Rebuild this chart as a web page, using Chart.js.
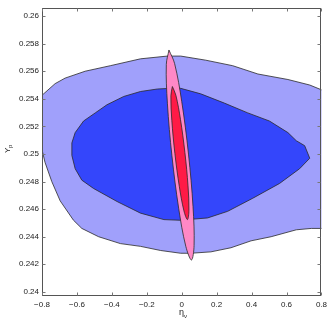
<!DOCTYPE html>
<html>
<head>
<meta charset="utf-8">
<script src="https://cdn.jsdelivr.net/npm/chart.js@4/dist/chart.umd.min.js"></script>
<style>
html,body{margin:0;padding:0;background:#fff;}
#wrap{width:331px;height:323px;}
</style>
</head>
<body>
<div id="wrap"><canvas id="c" width="331" height="323"></canvas></div>
<script>
// ---- data ----
const X_TICKS = [-0.8, -0.6, -0.4, -0.2, 0, 0.2, 0.4, 0.6, 0.8];
const X_LABELS = ['\u22120.8', '\u22120.6', '\u22120.4', '\u22120.2', '0', '0.2', '0.4', '0.6', '0.8'];
const Y_TICKS = [0.24, 0.242, 0.244, 0.246, 0.248, 0.25, 0.252, 0.254, 0.256, 0.258, 0.26];
const Y_LABELS = ['0.24', '0.242', '0.244', '0.246', '0.248', '0.25', '0.252', '0.254', '0.256', '0.258', '0.26'];

// outer (light blue) contour
const outerEta = [-0.823, -0.796, -0.725, -0.668, -0.553, -0.409, -0.236, -0.082, -0.006, 0.138, 0.292, 0.436, 0.608, 0.733, 0.810, 0.835, 0.835, 0.810, 0.742, 0.656, 0.512, 0.397, 0.282, 0.167, 0.052, -0.006, -0.121, -0.236, -0.351, -0.476, -0.572, -0.620, -0.696, -0.744, -0.783, -0.796, -0.823];
const outerYp  = [0.2540, 0.2543, 0.2551, 0.2555, 0.2560, 0.2564, 0.2569, 0.2571, 0.2571, 0.2568, 0.2564, 0.2558, 0.2554, 0.2550, 0.2546, 0.2546, 0.2447, 0.2446, 0.2446, 0.2445, 0.2440, 0.2437, 0.2432, 0.2429, 0.2428, 0.2428, 0.2430, 0.2433, 0.2435, 0.2440, 0.2446, 0.2452, 0.2466, 0.2480, 0.2494, 0.2501, 0.2507];

// inner (dark blue) contour
const innerEta = [-0.629, -0.610, -0.562, -0.495, -0.428, -0.332, -0.236, -0.140, -0.063, -0.006, 0.109, 0.244, 0.378, 0.502, 0.608, 0.656, 0.704, 0.733, 0.675, 0.560, 0.407, 0.263, 0.148, 0.033, -0.006, -0.102, -0.236, -0.370, -0.505, -0.572, -0.610, -0.629];
const innerYp  = [0.2508, 0.25155, 0.25239, 0.25298, 0.25357, 0.25417, 0.25453, 0.25471, 0.25476, 0.25476, 0.25436, 0.25369, 0.25298, 0.25239, 0.25155, 0.25096, 0.2506, 0.24969, 0.24893, 0.24786, 0.24679, 0.24584, 0.24536, 0.24524, 0.24519, 0.24524, 0.24571, 0.24655, 0.2475, 0.2481, 0.24893, 0.24989];

// pink (outer) ellipse
const pinkEta = [-0.0731, -0.0406, 0.0003, 0.0388, 0.0647, 0.0708, 0.0558, 0.0234, -0.0176, -0.0561, -0.0820, -0.0882];
const pinkYp  = [0.25754, 0.25655, 0.25379, 0.24999, 0.24618, 0.24336, 0.24231, 0.2433, 0.24607, 0.24987, 0.25368, 0.25649];

// red (inner) ellipse
const redEta = [-0.0535, -0.0335, -0.0072, 0.0182, 0.0360, 0.0413, 0.0328, 0.0128, -0.0135, -0.0390, -0.0567, -0.0620];
const redYp  = [0.25489, 0.25426, 0.25251, 0.2501, 0.24769, 0.24591, 0.24524, 0.24587, 0.24762, 0.25003, 0.25244, 0.25422];

// ---- build closed point lists ----
function closed(xs, ys) {
  const pts = xs.map((v, i) => ({x: v, y: ys[i]}));
  pts.push({x: xs[0], y: ys[0]});
  return pts;
}

const FONT = 'Liberation Sans, Arial, Helvetica, sans-serif';

const framePlugin = {
  id: 'frame',
  afterDatasetsDraw(chart) {
    const {ctx, chartArea: a, scales: {x, y}} = chart;
    ctx.save();
    ctx.strokeStyle = '#555';
    ctx.lineWidth = 1;
    const L = Math.round(a.left) + 0.5, R = Math.round(a.right) - 0.5;
    const T = Math.round(a.top) + 0.5, B = Math.round(a.bottom) - 0.5;
    ctx.strokeRect(L, T, R - L, B - T);
    ctx.strokeStyle = '#777';
    ctx.beginPath();
    X_TICKS.forEach(v => {
      const p = Math.round(x.getPixelForValue(v)) + 0.5;
      ctx.moveTo(p, B); ctx.lineTo(p, B - 3);
      ctx.moveTo(p, T); ctx.lineTo(p, T + 3);
    });
    Y_TICKS.forEach(v => {
      const p = Math.round(y.getPixelForValue(v)) + 0.5;
      ctx.moveTo(L, p); ctx.lineTo(L + 3, p);
      ctx.moveTo(R, p); ctx.lineTo(R - 3, p);
    });
    ctx.stroke();
    // axis titles with sub-scripts
    ctx.fillStyle = '#222';
    ctx.textBaseline = 'alphabetic';
    ctx.font = '9px ' + FONT;
    ctx.fillText('\u03B7', 179, 315);
    ctx.font = '6px ' + FONT;
    ctx.fillText('\u03BD', 184, 318);
    ctx.translate(10, 153);
    ctx.rotate(-Math.PI / 2);
    ctx.font = '8px ' + FONT;
    ctx.fillText('Y', 0, 0);
    ctx.font = '6px ' + FONT;
    ctx.fillText('p', 5, 2);
    ctx.restore();
  }
};

const edge = '#2a2a2a';
new Chart(document.getElementById('c'), {
  type: 'scatter',
  data: {
    datasets: [
      {data: closed(redEta, redYp), order: 1, backgroundColor: '#ff1a46', borderColor: edge, tension: 0.35},
      {data: closed(pinkEta, pinkYp), order: 2, backgroundColor: '#ff88c6', borderColor: edge, tension: 0.35},
      {data: closed(innerEta, innerYp), order: 3, backgroundColor: '#3446fb', borderColor: edge, tension: 0},
      {data: closed(outerEta, outerYp), order: 4, backgroundColor: '#a0a0fb', borderColor: edge, tension: 0}
    ].map(d => Object.assign({showLine: true, fill: 'shape', pointRadius: 0, borderWidth: 0.8}, d))
  },
  options: {
    responsive: false,
    animation: false,
    events: [],
    layout: {padding: {left: 0, right: 9, top: 3, bottom: 0}},
    plugins: {legend: {display: false}, tooltip: {enabled: false}},
    scales: {
      x: {
        type: 'linear', min: -0.8, max: 0.8,
        afterBuildTicks: s => { s.ticks = X_TICKS.map(v => ({value: v})); },
        afterFit: s => { s.height = 27; },
        grid: {display: false, drawTicks: false},
        border: {display: false},
        ticks: {
          padding: 4, color: '#222', maxRotation: 0, autoSkip: false,
          font: {family: FONT, size: 8},
          callback: (v, i) => X_LABELS[i]
        }
      },
      y: {
        type: 'linear', min: 0.2397, max: 0.2606,
        afterBuildTicks: s => { s.ticks = Y_TICKS.map(v => ({value: v})); },
        afterFit: s => { s.width = 42; },
        grid: {display: false, drawTicks: false},
        border: {display: false},
        ticks: {
          padding: 3, color: '#222', autoSkip: false,
          font: {family: FONT, size: 8},
          callback: (v, i) => Y_LABELS[i]
        }
      }
    }
  },
  plugins: [framePlugin]
});
</script>
</body>
</html>
